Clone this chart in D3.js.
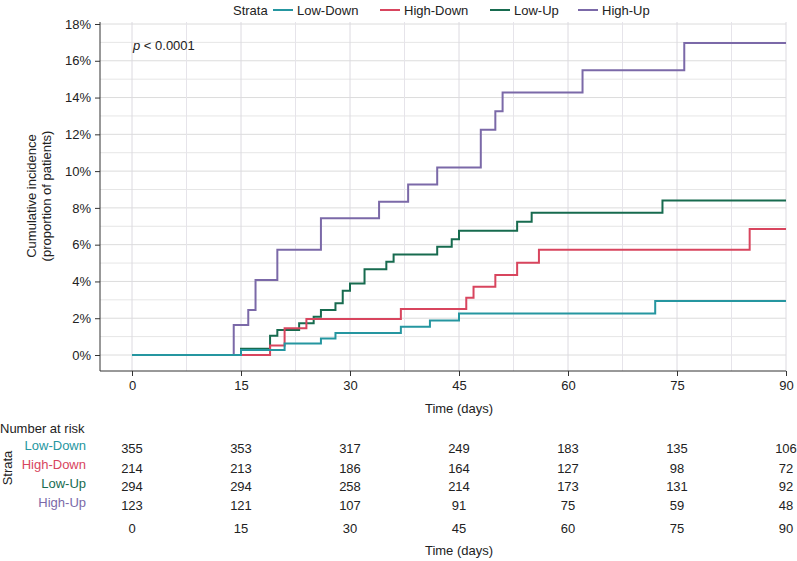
<!DOCTYPE html>
<html>
<head>
<meta charset="utf-8">
<script src="https://cdn.jsdelivr.net/npm/d3@7"></script>
<style>
  body { margin: 0; background: #fff; }
  svg { font-family: "Liberation Sans", Arial, Helvetica, sans-serif; }
</style>
</head>
<body>
<div id="chart"></div>
<script>
// Strata and colours
const strata = ['Low-Down', 'High-Down', 'Low-Up', 'High-Up'];
const colors = ['#2596a0', '#d8455e', '#176b4f', '#7b69a8'];

// Step events: [day, cumulative incidence %]
const lowDown = [[15, 0.27], [21, 0.62], [26, 0.9], [28, 1.2], [37, 1.53], [41, 1.87], [45, 2.26], [72, 2.93]];
const highDown = [[19, 0.52], [21, 1.45], [24, 1.96], [37, 2.5], [46, 3.12], [47, 3.71], [50, 4.35], [53, 5.02], [56, 5.72], [85, 6.85]];
const lowUp = [[15, 0.34], [19, 1.05], [20, 1.36], [23, 1.72], [25, 2.08], [26, 2.45], [28, 2.81], [29, 3.49], [30, 3.89],
  [32, 4.66], [35, 5.07], [36, 5.47], [42, 5.89], [44, 6.29], [45, 6.76], [53, 7.25], [55, 7.73], [73, 8.4]];
const highUp = [[14, 1.63], [16, 2.45], [17, 4.08], [20, 5.72], [26, 7.43], [34, 8.33], [38, 9.27], [42, 10.2],
  [48, 12.25], [50, 13.25], [51, 14.28], [62, 15.48], [76, 16.97]];
const series = [lowDown, highDown, lowUp, highUp];

// Number at risk
const riskTimes = [0, 15, 30, 45, 60, 75, 90];
const riskCounts = [
  [355, 353, 317, 249, 183, 135, 106],
  [214, 213, 186, 164, 127, 98, 72],
  [294, 294, 258, 214, 173, 131, 92],
  [123, 121, 107, 91, 75, 59, 48]
];

const xTicks = [0, 15, 30, 45, 60, 75, 90];
const yTicks = [0, 2, 4, 6, 8, 10, 12, 14, 16, 18];

const width = 797;
const height = 561;
const plot = { left: 100, right: 786, top: 22, bottom: 371 };

const svg = d3.select('#chart')
  .append('svg')
  .attr('width', width)
  .attr('height', height);

const x = d3.scaleLinear().domain([0, 90]).range([132, 786]);
const y = d3.scaleLinear().domain([0, 18]).range([355, 24]);

// Grid
const grid = svg.append('g');
grid.selectAll('line.h')
  .data(d3.range(0, 19, 1))
  .enter().append('line')
  .attr('x1', plot.left).attr('x2', plot.right)
  .attr('y1', d => y(d)).attr('y2', d => y(d))
  .attr('stroke', d => d % 2 === 0 ? '#dcdcdc' : '#e6e6e6')
  .attr('stroke-width', 1);
grid.selectAll('line.v')
  .data(d3.range(0, 90.1, 7.5))
  .enter().append('line')
  .attr('y1', plot.top).attr('y2', plot.bottom)
  .attr('x1', d => x(d)).attr('x2', d => x(d))
  .attr('stroke', d => d % 15 === 0 ? '#dcdae0' : '#e6e4ea')
  .attr('stroke-width', 1);

// Axes
const yAxis = d3.axisLeft(y).tickValues(yTicks).tickFormat(d => d + '%').tickSize(5).tickPadding(4);
svg.append('g')
  .attr('transform', `translate(${plot.left},0)`)
  .call(yAxis)
  .call(g => g.select('.domain').attr('d', `M0,${plot.top}V${plot.bottom}`));

const xAxis = d3.axisBottom(x).tickValues(xTicks).tickSize(5).tickPadding(5);
svg.append('g')
  .attr('transform', `translate(0,${plot.bottom})`)
  .call(xAxis)
  .call(g => g.select('.domain').attr('d', `M${plot.left},0H${plot.right}`));

svg.selectAll('.tick text').attr('font-size', 13).attr('fill', '#222').attr('font-family', null);
svg.selectAll('.domain, .tick line').attr('stroke', '#333');

// Step curves (Low-Down drawn last, on top)
const line = d3.line()
  .x(d => x(d[0]))
  .y(d => y(d[1]))
  .curve(d3.curveStepAfter);

const order = [3, 2, 1, 0];
svg.append('g')
  .selectAll('path')
  .data(order)
  .enter().append('path')
  .attr('d', i => {
    const pts = [[0, 0]].concat(series[i]);
    pts.push([90, pts[pts.length - 1][1]]);
    return line(pts);
  })
  .attr('fill', 'none')
  .attr('stroke', i => colors[i])
  .attr('stroke-width', 2);

// p value
svg.append('text')
  .attr('x', 133).attr('y', 50)
  .attr('font-size', 13).attr('fill', '#222')
  .html('<tspan font-style="italic">p</tspan> &lt; 0.0001');

// Axis titles
svg.append('text')
  .attr('transform', `translate(36,196) rotate(-90)`)
  .attr('text-anchor', 'middle')
  .attr('font-size', 13).attr('fill', '#222')
  .text('Cumulative incidence');
svg.append('text')
  .attr('transform', `translate(51,196) rotate(-90)`)
  .attr('text-anchor', 'middle')
  .attr('font-size', 13).attr('fill', '#222')
  .text('(proportion of patients)');
svg.append('text')
  .attr('x', x(45)).attr('y', 413)
  .attr('text-anchor', 'middle')
  .attr('font-size', 13).attr('fill', '#222')
  .text('Time (days)');

// Legend
const legend = svg.append('g').attr('transform', 'translate(0,10)');
legend.append('text')
  .attr('x', 233).attr('y', 4.5)
  .attr('font-size', 13).attr('fill', '#222')
  .text('Strata');
const legendX = [273, 380, 490, 578];
strata.forEach((s, i) => {
  legend.append('line')
    .attr('x1', legendX[i]).attr('x2', legendX[i] + 20)
    .attr('y1', 0).attr('y2', 0)
    .attr('stroke', colors[i]).attr('stroke-width', 2);
  legend.append('text')
    .attr('x', legendX[i] + 24).attr('y', 4.5)
    .attr('font-size', 13).attr('fill', '#222')
    .text(s);
});

// Risk table
svg.append('text')
  .attr('x', 0).attr('y', 433)
  .attr('font-size', 13).attr('fill', '#222')
  .text('Number at risk');
svg.append('text')
  .attr('transform', 'translate(12,468) rotate(-90)')
  .attr('text-anchor', 'middle')
  .attr('font-size', 13).attr('fill', '#222')
  .text('Strata');

const rowLabelY = [450, 469, 488, 507];
const rowY = [453, 473, 491, 510];
strata.forEach((s, i) => {
  svg.append('text')
    .attr('x', 86).attr('y', rowLabelY[i])
    .attr('text-anchor', 'end')
    .attr('font-size', 13).attr('fill', colors[i])
    .text(s);
  svg.append('g')
    .selectAll('text')
    .data(riskCounts[i])
    .enter().append('text')
    .attr('x', (d, j) => x(riskTimes[j]))
    .attr('y', rowY[i])
    .attr('text-anchor', 'middle')
    .attr('font-size', 13).attr('fill', '#222')
    .text(d => d);
});
svg.append('g')
  .selectAll('text')
  .data(riskTimes)
  .enter().append('text')
  .attr('x', d => x(d))
  .attr('y', 533)
  .attr('text-anchor', 'middle')
  .attr('font-size', 13).attr('fill', '#222')
  .text(d => d);
svg.append('text')
  .attr('x', x(45)).attr('y', 555)
  .attr('text-anchor', 'middle')
  .attr('font-size', 13).attr('fill', '#222')
  .text('Time (days)');
</script>
</body>
</html>
